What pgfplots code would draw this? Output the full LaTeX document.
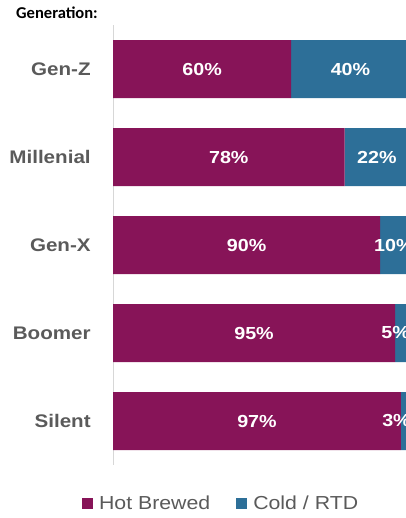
\documentclass[border=0pt]{standalone}
\usepackage{pgfplots}
\pgfplotsset{compat=1.18}
\usepackage{pgfplotstable}
\usepackage{fontspec}
\setmainfont{Liberation Sans}
\newfontfamily\titlefont{Carlito}
\newfontfamily\wide[FakeStretch=1.13]{Liberation Sans}
\definecolor{hot}{RGB}{135,20,88}
\definecolor{cold}{RGB}{45,111,152}
\definecolor{labgray}{RGB}{90,90,90}
\definecolor{axgray}{RGB}{215,215,215}
\pgfplotstableread{
y hot cold
0 60 40
1 78 22
2 90 10
3 95 5
4 97 3
}\data
% label positions (segment centres, nudged where the segment is narrow)
\pgfplotstableread{
y pos lab
0 30 60
1 39 78
2 45 90
3 47.5 95
4 48.5 97
}\hotlabels
\pgfplotstableread{
y pos lab
0 80 40
1 88.9 22
2 94.6 10
3 95.2 5
4 95.5 3
}\coldlabels
\pgfplotsset{
  common/.style={
    at={(113bp,53bp)}, anchor=south west,
    scale only axis, width=293bp, height=440bp,
    xmin=0, xmax=98.7, ymin=-0.5, ymax=4.5,
    y dir=reverse,
  }
}
\begin{document}
\begin{tikzpicture}
\useasboundingbox (0,0) rectangle (406bp,518bp);
\node[anchor=base west, inner sep=0pt, font=\titlefont\bfseries\fontsize{16.6}{16.6}\selectfont] at (16bp,499bp) {Generation:};
\begin{axis}[
  common,
  xbar stacked, bar width=58bp,
  axis y line=left, axis x line=none,
  axis line style={-, draw=axgray, line width=1bp},
  ytick={0,1,2,3,4},
  yticklabels={Gen-Z,Millenial,Gen-X,Boomer,Silent},
  ytick style={draw=none},
  yticklabel style={anchor=east, inner sep=0pt, xshift=-20bp, text=labgray, font=\wide\bfseries\fontsize{18.3}{18.3}\selectfont},
  xtick=\empty,
  legend columns=2,
  legend image code/.code={\fill[#1] (0bp,-5.5bp) rectangle (11bp,5.5bp);},
  legend style={at={(axis description cs:-0.106,-0.0864)}, anchor=west, draw=none, fill=none, inner sep=0pt,
    font=\wide\fontsize{18.9}{18.9}\selectfont, text=labgray,
    /tikz/every odd column/.append style={column sep=4bp},
    /tikz/every even column/.append style={column sep=24bp}},
]
\addplot[forget plot, fill=hot, draw=none] table[x=hot, y=y] {\data};
\addplot[forget plot, fill=cold, draw=none] table[x=cold, y=y] {\data};
\addlegendimage{fill=hot, draw=none}
\addlegendentry{Hot Brewed}
\addlegendimage{fill=cold, draw=none}
\addlegendentry{Cold / RTD}
\end{axis}
\begin{axis}[
  common, hide axis, clip=false,
  point meta=explicit symbolic,
  nodes near coords={\pgfplotspointmeta\%},
  every node near coord/.style={anchor=center, inner sep=0pt, text=white, font=\wide\bfseries\fontsize{17.5}{17.5}\selectfont},
]
\addplot[draw=none, mark=none] table[x=pos, y=y, meta=lab] {\hotlabels};
\addplot[draw=none, mark=none] table[x=pos, y=y, meta=lab] {\coldlabels};
\end{axis}
\end{tikzpicture}
\end{document}
